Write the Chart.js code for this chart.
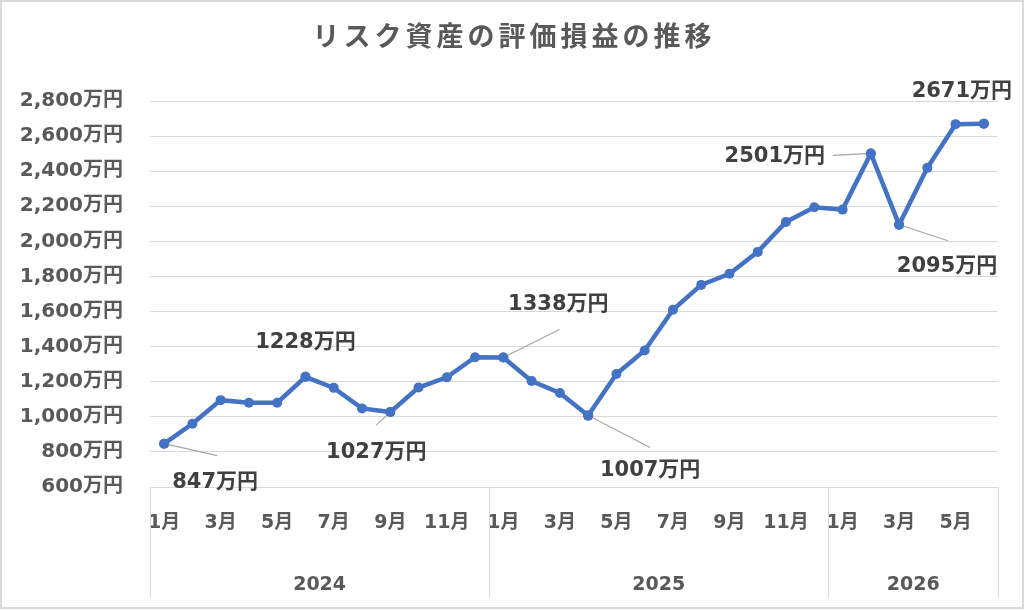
<!DOCTYPE html>
<html>
<head>
<meta charset="utf-8">
<script src="https://cdn.jsdelivr.net/npm/chart.js@4.4.1/dist/chart.umd.min.js"></script>
<style>
html,body{margin:0;padding:0;background:#fff;overflow:hidden}
#wrap{width:1024px;height:610px;position:relative}
</style>
</head>
<body>
<div id="wrap"><canvas id="c" width="1024" height="610"></canvas></div>
<script>
// ---- data ----
const TITLE = 'リスク資産の評価損益の推移';
const years = ['2024', '2025', '2026'];
const monthsPerYear = [12, 12, 6];
const monthLabels = [
  '1月','2月','3月','4月','5月','6月','7月','8月','9月','10月','11月','12月',
  '1月','2月','3月','4月','5月','6月','7月','8月','9月','10月','11月','12月',
  '1月','2月','3月','4月','5月','6月'
];
const values2024 = [847, 960, 1095, 1080, 1080, 1228, 1165, 1048, 1027, 1167, 1225, 1340];
const values2025 = [1338, 1204, 1136, 1007, 1244, 1378, 1610, 1752, 1815, 1940, 2111, 2194];
const values2026 = [2181, 2501, 2095, 2419, 2668, 2671];
const yMin = 600, yMax = 2800, yStep = 200;
const UNIT = '万円';
const labeledIndices = [0, 5, 8, 12, 15, 25, 26, 29];

const values = values2024.concat(values2025, values2026);

// ---- styles / label placement (pixel offsets from the point) ----
const TXT = '#595959';
const LBL = '#404040';
const FONT = '"DejaVu Sans","Noto Sans CJK JP",sans-serif';
const labelPlacement = {
  0:  {dx: 51,  dy: 39,  lx: 53,  ly: 12},
  5:  {dx: 0,   dy: -34},
  8:  {dx: -14, dy: 40,  lx: -14, ly: 13},
  12: {dx: 55,  dy: -53, lx: 56,  ly: -28},
  15: {dx: 62,  dy: 55,  lx: 62,  ly: 32},
  25: {dx: -96, dy: 3,   lx: -38, ly: 2},
  26: {dx: 48,  dy: 42,  lx: 49,  ly: 16},
  29: {dx: -22, dy: -32}
};

const extras = {
  id: 'extras',
  beforeDraw(chart) {
    const ctx = chart.ctx;
    ctx.save();
    ctx.fillStyle = '#ffffff';
    ctx.fillRect(0, 0, chart.width, chart.height);
    ctx.strokeStyle = '#d9d9d9';
    ctx.lineWidth = 2;
    ctx.strokeRect(1, 1, chart.width - 2, chart.height - 3);
    ctx.restore();
  },
  afterDraw(chart) {
    const ctx = chart.ctx;
    const x = chart.scales.x;
    // title
    ctx.save();
    ctx.fillStyle = TXT;
    ctx.font = 'bold 27px "Noto Sans CJK JP",sans-serif';
    ctx.textAlign = 'center';
    ctx.textBaseline = 'middle';
    try { ctx.letterSpacing = '4px'; } catch (e) {}
    ctx.fillText(TITLE, chart.width / 2 + 2, 36);
    ctx.restore();

    // category group separators and year labels
    ctx.save();
    ctx.strokeStyle = '#d9d9d9';
    ctx.lineWidth = 1;
    let start = 0;
    const bounds = [-0.5];
    monthsPerYear.forEach(n => { start += n; bounds.push(start - 0.5); });
    bounds.forEach(b => {
      const px = Math.round(x.getPixelForValue(b)) + 0.5;
      ctx.beginPath();
      ctx.moveTo(px, x.top);
      ctx.lineTo(px, x.bottom - 2);
      ctx.stroke();
    });
    ctx.fillStyle = TXT;
    ctx.font = 'bold 19px ' + FONT;
    ctx.textAlign = 'center';
    ctx.textBaseline = 'middle';
    years.forEach((yr, i) => {
      const cx = (x.getPixelForValue(bounds[i]) + x.getPixelForValue(bounds[i + 1])) / 2;
      ctx.fillText(yr, cx, 585);
    });
    ctx.restore();

    // data labels with leader lines
    const meta = chart.getDatasetMeta(0);
    ctx.save();
    labeledIndices.forEach(i => {
      const p = meta.data[i];
      const pl = labelPlacement[i];
      if (pl.lx !== undefined) {
        ctx.strokeStyle = '#a6a6a6';
        ctx.lineWidth = 1.2;
        ctx.beginPath();
        ctx.moveTo(p.x, p.y);
        ctx.lineTo(p.x + pl.lx, p.y + pl.ly);
        ctx.stroke();
      }
    });
    ctx.fillStyle = '#4472C4';
    labeledIndices.forEach(i => {
      const p = meta.data[i];
      ctx.beginPath();
      ctx.arc(p.x, p.y, 5, 0, Math.PI * 2);
      ctx.fill();
    });
    ctx.fillStyle = LBL;
    ctx.font = 'bold 21px ' + FONT;
    ctx.textAlign = 'center';
    ctx.textBaseline = 'middle';
    labeledIndices.forEach(i => {
      const p = meta.data[i];
      const pl = labelPlacement[i];
      ctx.fillText(values[i] + UNIT, p.x + pl.dx, p.y + pl.dy);
    });
    ctx.restore();
  }
};

new Chart(document.getElementById('c'), {
  type: 'line',
  data: {
    labels: monthLabels,
    datasets: [{
      data: values,
      borderColor: '#4472C4',
      backgroundColor: '#4472C4',
      borderWidth: 4.5,
      pointRadius: 5,
      pointBorderWidth: 0,
      pointBackgroundColor: '#4472C4',
      tension: 0,
      fill: false
    }]
  },
  options: {
    responsive: false,
    animation: false,
    layout: {padding: {top: 101, right: 26, bottom: 10, left: 0}},
    plugins: {legend: {display: false}, tooltip: {enabled: false}, title: {display: false}},
    scales: {
      x: {
        type: 'category',
        offset: true,
        grid: {display: false, drawTicks: false},
        border: {display: true, color: '#d9d9d9', width: 1},
        ticks: {
          autoSkip: false, maxRotation: 0, minRotation: 0, padding: 25,
          color: TXT, font: {family: FONT, size: 19, weight: 'bold'},
          callback: (v, i) => (i % 2 === 0 ? monthLabels[i] : '')
        },
        afterFit(s) { s.height = 113; }
      },
      y: {
        min: yMin, max: yMax,
        grid: {color: '#d9d9d9', lineWidth: 1, drawTicks: false},
        border: {display: false},
        ticks: {
          stepSize: yStep, padding: 27, color: TXT,
          font: {family: FONT, size: 20, weight: 'bold'},
          callback: v => v.toLocaleString('en-US') + UNIT
        },
        afterFit(s) { s.width = 150; }
      }
    }
  },
  plugins: [extras]
});
</script>
</body>
</html>
